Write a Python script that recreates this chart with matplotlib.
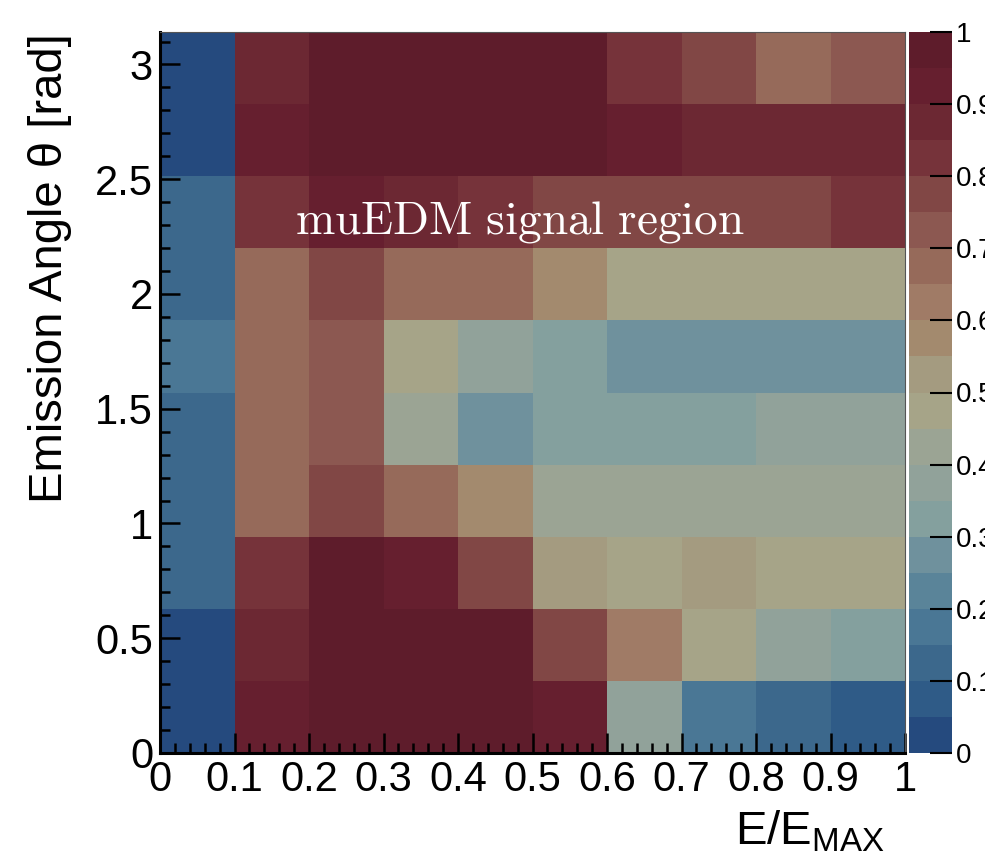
import numpy as np
import matplotlib
matplotlib.use("Agg")
import matplotlib.pyplot as plt
from matplotlib.colors import ListedColormap, BoundaryNorm
from matplotlib.ticker import MultipleLocator

plt.rcParams['font.family'] = ['Liberation Sans', 'DejaVu Sans']
plt.rcParams['mathtext.fontset'] = 'custom'
plt.rcParams['mathtext.rm'] = 'Liberation Sans'

# bins: E/E_max in 10 bins, emission angle 0..pi in 10 bins
x_edges = np.linspace(0.0, 1.0, 11)
y_edges = np.linspace(0.0, np.pi, 11)

# normalised content, rows from theta=0 (bottom) to theta=pi (top)
row_0 = [0.02, 0.92, 0.98, 0.98, 0.98, 0.92, 0.37, 0.17, 0.12, 0.07]
row_1 = [0.02, 0.87, 0.98, 0.98, 0.98, 0.77, 0.62, 0.47, 0.37, 0.32]
row_2 = [0.12, 0.82, 0.98, 0.92, 0.77, 0.52, 0.47, 0.52, 0.47, 0.47]
row_3 = [0.12, 0.67, 0.77, 0.67, 0.57, 0.42, 0.42, 0.42, 0.42, 0.42]
row_4 = [0.12, 0.67, 0.72, 0.42, 0.27, 0.32, 0.32, 0.32, 0.37, 0.37]
row_5 = [0.17, 0.67, 0.72, 0.47, 0.37, 0.32, 0.27, 0.27, 0.27, 0.27]
row_6 = [0.12, 0.67, 0.77, 0.67, 0.67, 0.57, 0.47, 0.47, 0.47, 0.47]
row_7 = [0.12, 0.82, 0.92, 0.87, 0.82, 0.77, 0.77, 0.77, 0.77, 0.82]
row_8 = [0.02, 0.92, 0.98, 0.98, 0.98, 0.98, 0.92, 0.87, 0.87, 0.87]
row_9 = [0.02, 0.87, 0.98, 0.98, 0.98, 0.98, 0.82, 0.77, 0.67, 0.72]
content = np.array([row_0, row_1, row_2, row_3, row_4,
                    row_5, row_6, row_7, row_8, row_9])

x_ticks = [0, 0.1, 0.2, 0.3, 0.4, 0.5, 0.6, 0.7, 0.8, 0.9, 1]
x_ticklabels = ['0', '0.1', '0.2', '0.3', '0.4', '0.5', '0.6', '0.7', '0.8', '0.9', '1']
y_ticks = [0, 0.5, 1, 1.5, 2, 2.5, 3]
y_ticklabels = ['0', '0.5', '1', '1.5', '2', '2.5', '3']
z_ticks = [0, 0.1, 0.2, 0.3, 0.4, 0.5, 0.6, 0.7, 0.8, 0.9, 1]
z_ticklabels = ['0', '0.1', '0.2', '0.3', '0.4', '0.5', '0.6', '0.7', '0.8', '0.9', '1']

# 20-level palette (bottom -> top)
palette = ['#254a7e', '#2f5b87', '#3c688c', '#4a7795', '#5a8499',
           '#6f919d', '#84a09e', '#91a29a', '#9ba494', '#a6a488',
           '#a49b80', '#a38a6e', '#a07b66', '#966a5a', '#8c5851',
           '#814745', '#76333a', '#6c2833', '#661f2f', '#5e1c2b']
cmap = ListedColormap(palette)
norm = BoundaryNorm(np.linspace(0, 1, 21), cmap.N)

W, H = 985, 858
fig = plt.figure(figsize=(W / 100, H / 100), dpi=100)
ax = fig.add_axes([160 / W, (H - 753) / H, 745 / W, 721 / H])
cax = fig.add_axes([909 / W, (H - 753) / H, 43 / W, 721 / H])

mesh = ax.pcolormesh(x_edges, y_edges, content, cmap=cmap, norm=norm)
ax.set_xlim(0, 1)
ax.set_ylim(0, np.pi)

ax.set_xticks(x_ticks)
ax.set_xticklabels(x_ticklabels)
ax.set_yticks(y_ticks)
ax.set_yticklabels(y_ticklabels)
ax.xaxis.set_minor_locator(MultipleLocator(0.02))
ax.yaxis.set_minor_locator(MultipleLocator(0.1))
ax.tick_params(which='major', direction='in', length=14.4, width=1.8,
               labelsize=30, color='black')
ax.tick_params(which='minor', direction='in', length=7.2, width=1.8)
ax.tick_params(axis='y', pad=5)
ax.tick_params(axis='x', pad=5)

for s in ['left', 'bottom']:
    ax.spines[s].set_linewidth(2.2)
for s in ['top', 'right']:
    ax.spines[s].set_linewidth(0.8)
    ax.spines[s].set_color('#555555')

ax.text(0.483, 2.314, r'$\mathrm{muEDM\ signal\ region}$', color='white',
        fontsize=34, ha='center', va='center', math_fontfamily='cm')

fig.text(50 / W, (H - 33) / H, 'Emission Angle θ [rad]', rotation=90,
         ha='center', va='top', fontsize=34)
fig.text(885 / W, (H - 845) / H, r'E/E$_{\mathregular{MAX}}$',
         ha='right', va='baseline', fontsize=34)

cb = fig.colorbar(mesh, cax=cax, ticks=z_ticks)
cb.ax.set_yticklabels(z_ticklabels)
cb.outline.set_visible(False)
cb.ax.tick_params(direction='in', length=16, width=1.5, labelsize=20,
                  pad=3, color='black')
cb.ax.minorticks_off()

fig.savefig('out.png', dpi=100)
